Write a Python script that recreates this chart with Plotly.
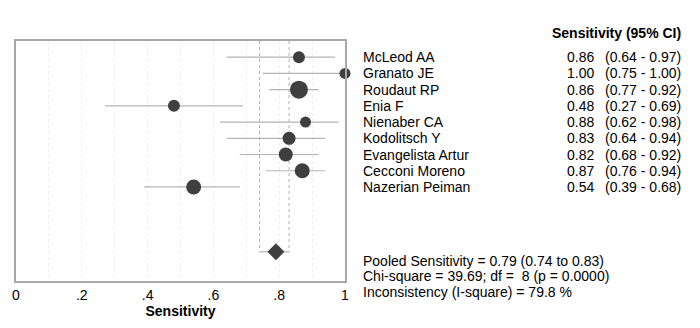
import plotly.graph_objects as go

studies = ["McLeod AA", "Granato JE", "Roudaut RP", "Enia F", "Nienaber CA",
           "Kodolitsch Y", "Evangelista Artur", "Cecconi Moreno", "Nazerian Peiman"]
sens = [0.86, 1.00, 0.86, 0.48, 0.88, 0.83, 0.82, 0.87, 0.54]
ci_lo = [0.64, 0.75, 0.77, 0.27, 0.62, 0.64, 0.68, 0.76, 0.39]
ci_hi = [0.97, 1.00, 0.92, 0.69, 0.98, 0.94, 0.92, 0.94, 0.68]
weights = [12, 11, 18, 12, 11, 13, 14, 15, 15]  # relative study weight (marker size)
pooled = 0.79
pooled_lo = 0.74
pooled_hi = 0.83
pooled_row = 12
tick_vals = [0, 0.2, 0.4, 0.6, 0.8, 1.0]
tick_text = ["0", ".2", ".4", ".6", ".8", "1"]
summary_lines = ["Pooled Sensitivity = 0.79 (0.74 to 0.83)",
                 "Chi-square = 39.69; df =  8 (p = 0.0000)",
                 "Inconsistency (I-square) = 79.8 %"]

rows = list(range(len(studies)))
FONT = "Liberation Sans, Arial, sans-serif"
TXT = dict(family=FONT, size=14, color="black")

fig = go.Figure()

# CI lines
lx, ly = [], []
for r, lo, hi in zip(rows, ci_lo, ci_hi):
    lx += [lo, hi, None]
    ly += [r, r, None]
lx += [pooled_lo, pooled_hi]
ly += [pooled_row, pooled_row]
fig.add_trace(go.Scatter(x=lx, y=ly, mode="lines",
                         line=dict(color="#b4b4b4", width=1.2),
                         hoverinfo="skip", showlegend=False))

# pooled CI dotted verticals
for v in (pooled_lo, pooled_hi):
    fig.add_shape(type="line", x0=v, x1=v, y0=-1, y1=pooled_row, xref="x", yref="y",
                  line=dict(color="#b0b0b0", width=1, dash="dot"), layer="below")

# study points
fig.add_trace(go.Scatter(x=sens, y=rows, mode="markers",
                         marker=dict(size=weights, color="#3f3f3f", symbol="circle",
                                     opacity=1, line=dict(width=0)),
                         opacity=1, cliponaxis=False, showlegend=False))

# pooled diamond
fig.add_trace(go.Scatter(x=[pooled], y=[pooled_row], mode="markers",
                         marker=dict(size=13, color="#3f3f3f", symbol="diamond",
                                     opacity=1, line=dict(width=0)),
                         showlegend=False))

def px2x(px):
    return (px - 13) / 332.0

def py2y(py):
    return (284 - py) / 243.0

ann = []
ann.append(dict(x=px2x(686), y=py2y(33), xref="paper", yref="paper",
                text="<b>Sensitivity (95% CI)</b>", showarrow=False,
                xanchor="right", yanchor="middle", font=dict(family=FONT, size=14, color="black")))
for r, name, s, lo, hi in zip(rows, studies, sens, ci_lo, ci_hi):
    ann.append(dict(x=px2x(361), y=r, xref="paper", yref="y", text=name, showarrow=False,
                    xanchor="left", yanchor="middle", font=TXT))
    ann.append(dict(x=px2x(598), y=r, xref="paper", yref="y", text=f"{s:.2f}", showarrow=False,
                    xanchor="right", yanchor="middle", font=TXT))
    ann.append(dict(x=px2x(686), y=r, xref="paper", yref="y", text=f"({lo:.2f} - {hi:.2f})",
                    showarrow=False, xanchor="right", yanchor="middle", font=TXT))
for i, t in enumerate(summary_lines):
    ann.append(dict(x=px2x(361), y=py2y(263.5 + i * 15.7), xref="paper", yref="paper", text=t,
                    showarrow=False, xanchor="left", yanchor="middle", font=TXT))

fig.update_layout(
    width=700, height=328,
    margin=dict(l=13, r=355, t=41, b=44),
    paper_bgcolor="white", plot_bgcolor="white",
    annotations=ann,
    font=dict(family=FONT, size=13, color="black"),
    xaxis=dict(range=[0, 1], tickvals=tick_vals, ticktext=tick_text,
               showgrid=True, gridcolor="#eeeeee", griddash="dot", gridwidth=1,
               minor=dict(dtick=0.1, showgrid=True, gridcolor="#eeeeee", griddash="dot"),
               zeroline=False, showline=True, linecolor="#a8a8a8", linewidth=1.5, mirror=True,
               ticks="", tickfont=dict(family=FONT, size=14, color="black"),
               title=dict(text="<b>Sensitivity</b>", font=dict(family=FONT, size=14, color="black"),
                          standoff=4)),
    yaxis=dict(range=[13.8, -1], showgrid=False, zeroline=False, showticklabels=False,
               showline=True, linecolor="#a8a8a8", linewidth=1.5, mirror=True, ticks=""),
)

fig.write_html("out.html")
